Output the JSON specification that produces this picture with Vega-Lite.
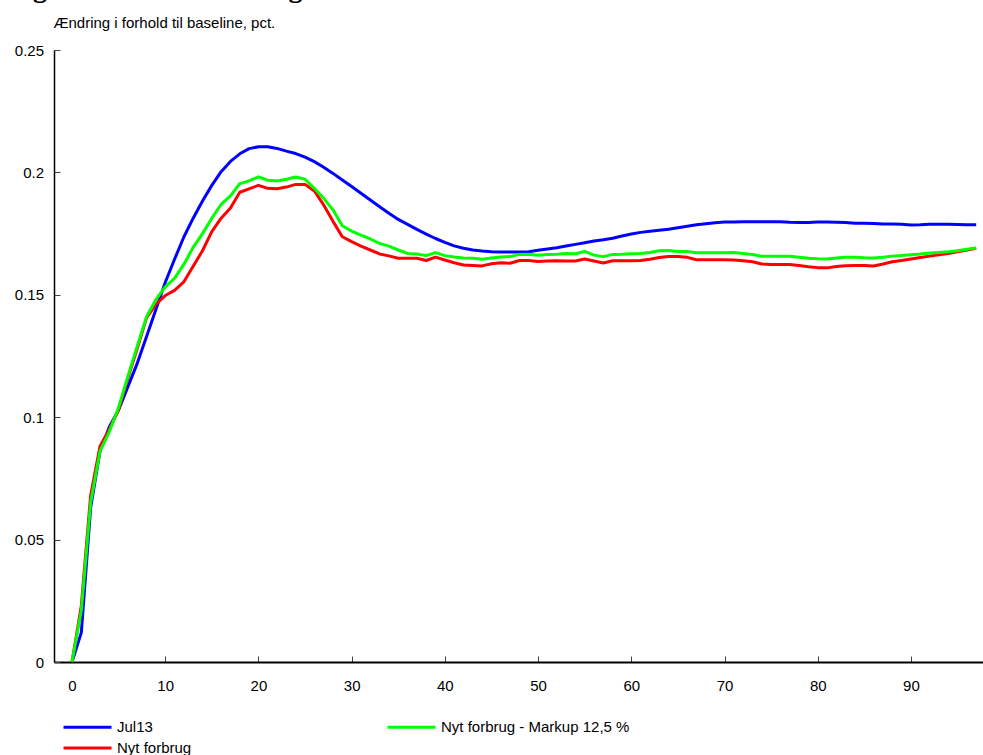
{
  "$schema": "https://vega.github.io/schema/vega-lite/v6.json",
  "width": 929,
  "height": 612,
  "autosize": {"type": "none"},
  "padding": {"left": 54, "top": 50, "right": 0, "bottom": 93},
  "background": "white",
  "title": {
    "text": "Figur 4. Ændret forbrug",
    "font": "Liberation Serif",
    "fontSize": 28,
    "fontWeight": "bold",
    "color": "black",
    "anchor": "start",
    "frame": "group",
    "baseline": "alphabetic",
    "offset": 8,
    "dx": -46,
    "dy": 18
  },
  "config": {
    "view": {"stroke": null},
    "font": "Liberation Sans",
    "axis": {"grid": false, "labelFont": "Liberation Sans", "labelFontSize": 15, "labelColor": "black", "titleFont": "Liberation Sans", "titleColor": "black", "titleFontWeight": "normal", "titleFontSize": 15}
  },
  "data": {
    "values": [
      {"t":0,"j":0,"n":0,"m":0},
      {"t":1,"j":0.012,"n":0.023,"m":0.021},
      {"t":2,"j":0.063,"n":0.068,"m":0.065},
      {"t":3,"j":0.086,"n":0.088,"m":0.086},
      {"t":4,"j":0.096,"n":0.095,"m":0.094},
      {"t":5,"j":0.103,"n":0.103,"m":0.104},
      {"t":6,"j":0.1125,"n":0.116,"m":0.1167},
      {"t":7,"j":0.122,"n":0.128,"m":0.129},
      {"t":8,"j":0.133,"n":0.1406,"m":0.141},
      {"t":9,"j":0.144,"n":0.1462,"m":0.148},
      {"t":10,"j":0.155,"n":0.1497,"m":0.1532},
      {"t":11,"j":0.1645,"n":0.1518,"m":0.1567},
      {"t":12,"j":0.1736,"n":0.1553,"m":0.1624},
      {"t":13,"j":0.1813,"n":0.1617,"m":0.1694},
      {"t":14,"j":0.1883,"n":0.168,"m":0.175},
      {"t":15,"j":0.1947,"n":0.1758,"m":0.1813},
      {"t":16,"j":0.2003,"n":0.1813,"m":0.1869},
      {"t":17,"j":0.2045,"n":0.1855,"m":0.1904},
      {"t":18,"j":0.2076,"n":0.1919,"m":0.1954},
      {"t":19,"j":0.2097,"n":0.1933,"m":0.1965},
      {"t":20,"j":0.2105,"n":0.1947,"m":0.1982},
      {"t":21,"j":0.2105,"n":0.1935,"m":0.1968},
      {"t":22,"j":0.2098,"n":0.1933,"m":0.1965},
      {"t":23,"j":0.2087,"n":0.194,"m":0.1972},
      {"t":24,"j":0.2077,"n":0.1951,"m":0.1981},
      {"t":25,"j":0.2062,"n":0.1951,"m":0.1972},
      {"t":26,"j":0.2044,"n":0.1924,"m":0.1935},
      {"t":27,"j":0.2021,"n":0.1867,"m":0.1894},
      {"t":28,"j":0.1996,"n":0.18,"m":0.1847},
      {"t":29,"j":0.1969,"n":0.1737,"m":0.1782},
      {"t":30,"j":0.1942,"n":0.1717,"m":0.176},
      {"t":31,"j":0.1915,"n":0.1699,"m":0.1744},
      {"t":32,"j":0.1887,"n":0.1683,"m":0.1728},
      {"t":33,"j":0.186,"n":0.1667,"m":0.171},
      {"t":34,"j":0.1833,"n":0.1659,"m":0.1699},
      {"t":35,"j":0.1808,"n":0.1649,"m":0.1683},
      {"t":36,"j":0.1788,"n":0.1649,"m":0.1669},
      {"t":37,"j":0.1767,"n":0.1649,"m":0.1667},
      {"t":38,"j":0.1748,"n":0.164,"m":0.166},
      {"t":39,"j":0.173,"n":0.1654,"m":0.1672},
      {"t":40,"j":0.1714,"n":0.1642,"m":0.166},
      {"t":41,"j":0.17,"n":0.1631,"m":0.1654},
      {"t":42,"j":0.169,"n":0.1622,"m":0.165},
      {"t":43,"j":0.1683,"n":0.162,"m":0.1649},
      {"t":44,"j":0.1679,"n":0.1618,"m":0.1645},
      {"t":45,"j":0.1676,"n":0.1627,"m":0.165},
      {"t":46,"j":0.1675,"n":0.1631,"m":0.1654},
      {"t":47,"j":0.1675,"n":0.1629,"m":0.1656},
      {"t":48,"j":0.1675,"n":0.164,"m":0.1665},
      {"t":49,"j":0.1676,"n":0.164,"m":0.1666},
      {"t":50,"j":0.1682,"n":0.1636,"m":0.1662},
      {"t":51,"j":0.1687,"n":0.1638,"m":0.1665},
      {"t":52,"j":0.1692,"n":0.1639,"m":0.1666},
      {"t":53,"j":0.1699,"n":0.1638,"m":0.1669},
      {"t":54,"j":0.1706,"n":0.1638,"m":0.1668},
      {"t":55,"j":0.1713,"n":0.1646,"m":0.1677},
      {"t":56,"j":0.172,"n":0.1638,"m":0.1662},
      {"t":57,"j":0.1725,"n":0.163,"m":0.1656},
      {"t":58,"j":0.1731,"n":0.1639,"m":0.1665},
      {"t":59,"j":0.174,"n":0.1639,"m":0.1666},
      {"t":60,"j":0.1748,"n":0.1639,"m":0.1668},
      {"t":61,"j":0.1755,"n":0.164,"m":0.1669},
      {"t":62,"j":0.176,"n":0.1645,"m":0.1673},
      {"t":63,"j":0.1764,"n":0.1652,"m":0.168},
      {"t":64,"j":0.1768,"n":0.1656,"m":0.1681},
      {"t":65,"j":0.1774,"n":0.1656,"m":0.1677},
      {"t":66,"j":0.178,"n":0.1653,"m":0.1677},
      {"t":67,"j":0.1786,"n":0.1643,"m":0.1672},
      {"t":68,"j":0.179,"n":0.1643,"m":0.1672},
      {"t":69,"j":0.1794,"n":0.1643,"m":0.1672},
      {"t":70,"j":0.1797,"n":0.1643,"m":0.1672},
      {"t":71,"j":0.1797,"n":0.1642,"m":0.1673},
      {"t":72,"j":0.1798,"n":0.1639,"m":0.1669},
      {"t":73,"j":0.1798,"n":0.1635,"m":0.1665},
      {"t":74,"j":0.1798,"n":0.1626,"m":0.1657},
      {"t":75,"j":0.1798,"n":0.1624,"m":0.1657},
      {"t":76,"j":0.1798,"n":0.1624,"m":0.1657},
      {"t":77,"j":0.1796,"n":0.1624,"m":0.1657},
      {"t":78,"j":0.1795,"n":0.162,"m":0.1653},
      {"t":79,"j":0.1795,"n":0.1615,"m":0.1649},
      {"t":80,"j":0.1797,"n":0.1611,"m":0.1647},
      {"t":81,"j":0.1797,"n":0.161,"m":0.1646},
      {"t":82,"j":0.1796,"n":0.1616,"m":0.165},
      {"t":83,"j":0.1795,"n":0.1619,"m":0.1653},
      {"t":84,"j":0.1792,"n":0.162,"m":0.1653},
      {"t":85,"j":0.1792,"n":0.162,"m":0.1651},
      {"t":86,"j":0.1791,"n":0.1618,"m":0.165},
      {"t":87,"j":0.1789,"n":0.1626,"m":0.1653},
      {"t":88,"j":0.1789,"n":0.1635,"m":0.1658},
      {"t":89,"j":0.1788,"n":0.164,"m":0.1661},
      {"t":90,"j":0.1785,"n":0.1646,"m":0.1664},
      {"t":91,"j":0.1786,"n":0.1652,"m":0.1667},
      {"t":92,"j":0.1788,"n":0.1658,"m":0.1671},
      {"t":93,"j":0.1788,"n":0.1664,"m":0.1673},
      {"t":94,"j":0.1788,"n":0.1669,"m":0.1676},
      {"t":95,"j":0.1787,"n":0.1676,"m":0.168},
      {"t":96,"j":0.1786,"n":0.1683,"m":0.1686},
      {"t":97,"j":0.1786,"n":0.169,"m":0.1691}
    ]
  },
  "transform": [
    {"fold": ["j", "n", "m"], "as": ["serie", "v"]}
  ],
  "mark": {"type": "line", "strokeWidth": 3, "strokeJoin": "round", "strokeCap": "butt"},
  "encoding": {
    "x": {
      "field": "t",
      "type": "quantitative",
      "scale": {"domain": [-1.93, 97.73], "nice": false, "zero": false},
      "axis": {
        "title": null,
        "values": [0, 10, 20, 30, 40, 50, 60, 70, 80, 90],
        "domainColor": "black",
        "domainWidth": 2,
        "tickColor": "#444",
        "tickSize": -6,
        "tickWidth": 1,
        "labelPadding": 22,
        "labelBaseline": "top",
        "labelFlush": false,
        "labelOverlap": false
      }
    },
    "y": {
      "field": "v",
      "type": "quantitative",
      "scale": {"domain": [0, 0.25], "nice": false},
      "axis": {
        "title": "Ændring i forhold til baseline, pct.",
        "titleAngle": 0,
        "titleAlign": "left",
        "titleBaseline": "alphabetic",
        "titleX": -1,
        "titleY": -23,
        "values": [0, 0.05, 0.1, 0.15, 0.2, 0.25],
        "labelExpr": "'' + datum.value",
        "domainColor": "black",
        "domainWidth": 1.5,
        "tickColor": "#444",
        "tickSize": -6,
        "tickWidth": 1,
        "labelPadding": 16.5,
        "labelFlush": false,
        "labelOverlap": false
      }
    },
    "color": {
      "field": "serie",
      "type": "nominal",
      "scale": {"domain": ["j", "n", "m"], "range": ["#0000ff", "#ff0000", "#00ff00"]},
      "legend": {
        "title": null,
        "orient": "none",
        "legendX": 8,
        "legendY": 669.5,
        "columns": 2,
        "padding": 0,
        "columnPadding": 189,
        "rowPadding": 5,
        "symbolType": "M-4,0H4",
        "symbolSize": 144,
        "symbolStrokeWidth": 3,
        "symbolOffset": 18,
        "labelOffset": 22,
        "labelFont": "Liberation Sans",
        "labelFontSize": 15,
        "labelColor": "black",
        "labelLimit": 400,
        "labelExpr": "datum.value == 'j' ? 'Jul13' : datum.value == 'n' ? 'Nyt forbrug' : 'Nyt forbrug - Markup 12,5 %'"
      }
    }
  }
}
